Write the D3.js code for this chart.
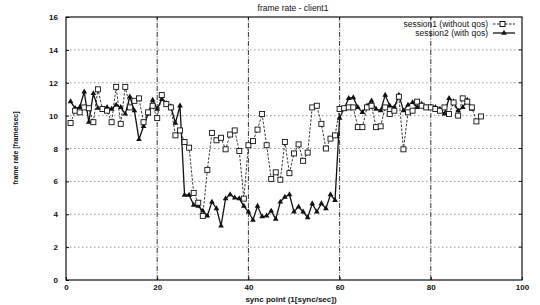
<!DOCTYPE html>
<html><head><meta charset="utf-8">
<script src="https://cdn.jsdelivr.net/npm/d3@7"></script>
<style>body{margin:0;background:#fff}svg{display:block}text{font-family:"Liberation Sans",Arial,sans-serif;fill:#111}</style>
</head><body><svg id="c" width="540" height="305"></svg>
<script>
const title = "frame rate - client1";
const xLabel = "sync point (1[sync/sec])";
const yLabel = "frame rate [frame/sec]";
const seriesNames = ["session1 (without qos)", "session2 (with qos)"];
const xTicks = [0, 20, 40, 60, 80, 100];
const yTicks = [0, 2, 4, 6, 8, 10, 12, 14, 16];
const session1 = [9.55,10.3,10.2,10.5,10.45,9.6,11.6,10.4,10.3,9.6,11.75,9.5,11.75,10.5,10.9,11.05,9.6,10.2,10.6,9.85,11.25,10.7,10.5,8.8,9.1,
 8.4,8.05,5.3,4.7,3.9,6.7,8.95,8.5,8.65,7.95,8.85,9.1,7.85,4.95,8.2,8.45,9.15,10.1,8.2,6.15,6.55,6.1,8.4,6.5,7.7,8.25,7.25,7.75,10.5,10.6,9.5,8.0,8.6,8.8,
 10.4,10.45,10.5,10.5,9.3,9.3,10.5,10.6,9.3,9.35,10.5,10.1,10.3,11.15,7.95,10.2,10.3,10.85,10.6,10.5,10.5,10.4,10.3,10.5,10.1,10.8,10.0,11.05,10.85,10.5,9.65,9.95];
const session2 = [10.85,10.45,10.5,11.45,9.6,11.35,10.45,10.4,10.5,10.4,10.65,10.5,10.1,11.15,10.3,8.55,9.35,10.1,10.95,10.4,11.0,10.75,10.55,9.55,10.6,
 5.17,5.17,4.56,4.5,4.2,3.9,4.75,4.35,3.3,4.95,5.2,5.0,4.95,4.5,4.15,3.65,4.5,3.85,3.9,4.2,3.7,4.75,5.05,5.2,4.15,4.45,4.15,3.8,4.65,4.15,4.65,4.35,5.2,4.85,
 9.85,10.45,11.05,11.1,10.5,10.2,10.6,10.9,10.4,10.3,11.25,10.6,10.5,11.25,10.3,10.65,10.8,10.5,10.7,10.5,10.55,10.5,10.4,10.1,11.05,10.85,10.3,10.5,10.95,10.4];

const svg = d3.select("#c");
const x = d3.scaleLinear().domain([0,100]).range([66,522]);
const y = d3.scaleLinear().domain([0,16]).range([280,17]);

// grid
svg.append("g").selectAll("line").data(yTicks.slice(1,-1)).join("line")
  .attr("x1",x(0)).attr("x2",x(100)).attr("y1",d=>y(d)).attr("y2",d=>y(d))
  .attr("stroke","#777").attr("stroke-width",0.8).attr("stroke-dasharray","1.5,2.5");
svg.append("g").selectAll("line").data(xTicks.slice(1,-1)).join("line")
  .attr("x1",d=>x(d)).attr("x2",d=>x(d)).attr("y1",y(0)).attr("y2",y(16))
  .attr("stroke","#333").attr("stroke-width",1).attr("stroke-dasharray","5,1.5,1,1.5");

// axes
const xa = svg.append("g").attr("transform",`translate(0,${y(0)})`)
  .call(d3.axisBottom(x).tickValues(xTicks).tickSize(-3).tickPadding(4).tickFormat(d3.format("d")));
const ya = svg.append("g").attr("transform",`translate(${x(0)},0)`)
  .call(d3.axisLeft(y).tickValues(yTicks).tickSize(-3).tickPadding(8).tickFormat(d3.format("d")));
[xa,ya].forEach(a=>{a.select(".domain").remove();a.selectAll("line").attr("stroke","#111");
  a.selectAll("text").attr("font-size",8).attr("font-weight","bold").attr("fill","#111").style("font-family","'Liberation Sans',Arial,sans-serif");});
svg.append("g").selectAll("line").data(xTicks.slice(1,-1)).join("line")
  .attr("x1",d=>x(d)).attr("x2",d=>x(d)).attr("y1",y(16)).attr("y2",y(16)+3).attr("stroke","#111");
svg.append("g").selectAll("line").data(yTicks.slice(1,-1)).join("line")
  .attr("x1",x(100)).attr("x2",x(100)-3).attr("y1",d=>y(d)).attr("y2",d=>y(d)).attr("stroke","#111");
svg.append("rect").attr("x",x(0)).attr("y",y(16)).attr("width",x(100)-x(0)).attr("height",y(0)-y(16))
  .attr("fill","none").attr("stroke","#111").attr("stroke-width",1.2);

// series
const line = d3.line().x(d=>x(d[0])).y(d=>y(d[1]));
const d1 = session1.map((v,i)=>[i+1,v]);
const d2 = session2.map((v,i)=>[i+1,v]);
svg.append("path").attr("d",line(d1)).attr("fill","none").attr("stroke","#222").attr("stroke-width",0.9).attr("stroke-dasharray","2.5,1.5");
svg.append("path").attr("d",line(d2)).attr("fill","none").attr("stroke","#111").attr("stroke-width",1.3);
const tri = d3.symbol().type(d3.symbolTriangle).size(14);
svg.append("g").selectAll("path").data(d2).join("path")
  .attr("transform",d=>`translate(${x(d[0])},${y(d[1])})`).attr("d",tri).attr("fill","#111");
svg.append("g").selectAll("rect").data(d1).join("rect")
  .attr("x",d=>x(d[0])-2.5).attr("y",d=>y(d[1])-2.5).attr("width",5).attr("height",5)
  .attr("fill","#fff").attr("stroke","#111").attr("stroke-width",0.9);

// legend
const lg = svg.append("g");
[0,1].forEach(i=>{
  const ly = 24 + i*9;
  lg.append("text").attr("x",488).attr("y",ly+3).attr("text-anchor","end").attr("font-size",8.5).text(seriesNames[i]);
  lg.append("line").attr("x1",493).attr("x2",515).attr("y1",ly).attr("y2",ly)
    .attr("stroke","#111").attr("stroke-width",i?1.3:0.9).attr("stroke-dasharray",i?null:"2.5,1.5");
  if(i===0) lg.append("rect").attr("x",500).attr("y",ly-2.5).attr("width",5).attr("height",5).attr("fill","#fff").attr("stroke","#111");
  else lg.append("path").attr("transform",`translate(504,${ly})`).attr("d",tri).attr("fill","#111");
});

// titles
svg.append("text").attr("x",293).attr("y",11).attr("text-anchor","middle").attr("font-size",8.5).text(title);
svg.append("text").attr("x",291).attr("y",302).attr("text-anchor","middle").attr("font-size",8).attr("font-weight","bold").text(xLabel);
svg.append("text").attr("transform","translate(18,148) rotate(-90)").attr("text-anchor","middle").attr("font-size",7).attr("font-weight","bold").text(yLabel);
</script></body></html>
